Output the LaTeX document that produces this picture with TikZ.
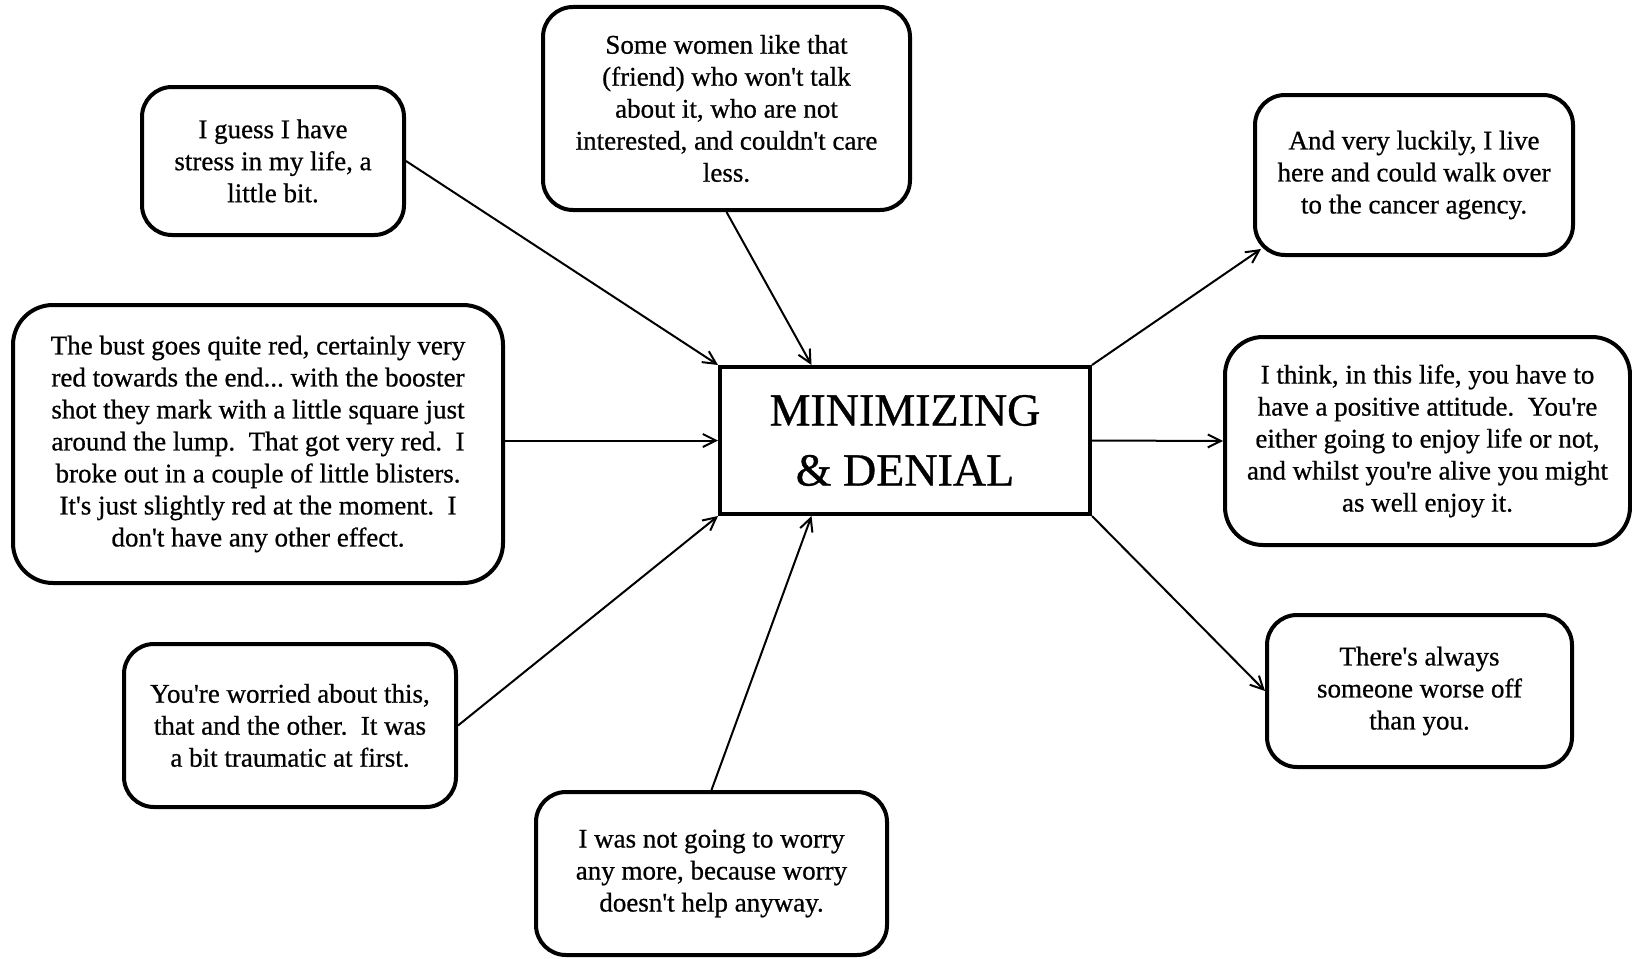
\documentclass[tikz,border=0pt]{standalone}
\usepackage{fontspec}
\setmainfont{Liberation Serif}[Ligatures=TeXOff,
  BoldFont=Liberation Serif, BoldFeatures={FakeBold=0.7}]
\usetikzlibrary{arrows.meta,calc}
\begin{document}
\begin{tikzpicture}[x=1pt,y=-1pt,
  quote/.style={draw,line width=4pt,rounded corners=30pt,align=center,
    font=\fontsize{27}{32}\selectfont\bfseries\frenchspacing,inner sep=0pt},
  hub/.style={draw,line width=4pt,align=center,
    font=\fontsize{46}{60}\selectfont\bfseries,inner sep=0pt},
  link/.style={line width=2pt,-{Straight Barb[length=13pt,width=13pt,line width=2pt]}}]
\useasboundingbox (0,0) rectangle (1632,958);

% central theme
\node[hub,minimum width=370pt,minimum height=147pt] (M) at (905,440.5)
  {MINIMIZING\\\& DENIAL};

% quotations, left and top
\node[quote,minimum width=262pt,minimum height=148pt] (A) at (273,161)
  {I guess I have\\stress in my life, a\\little bit.};
\node[quote,minimum width=367pt,minimum height=203pt] (B) at (726.5,108.5)
  {Some women like that\\(friend) who won't talk\\about it, who are not\\interested, and couldn't care\\less.};
\node[quote,rounded corners=40pt,minimum width=490pt,minimum height=278pt] (C) at (258,444)
  {The bust goes quite red, certainly very\\red towards the end... with the booster\\shot they mark with a little square just\\around the lump.\ \ That got very red.\ \ I\\broke out in a couple of little blisters.\\It's just slightly red at the moment.\ \ I\\don't have any other effect.};
\node[quote,minimum width=332pt,minimum height=163pt] (D) at (290,725.5)
  {You're worried about this,\\that and the other.\ \ It was\\a bit traumatic at first.};
\node[quote,minimum width=351pt,minimum height=163pt] (E) at (711.5,873.5)
  {I was not going to worry\\any more, because worry\\doesn't help anyway.};

% quotations, right
\node[quote,minimum width=318pt,minimum height=160pt] (F) at (1414,175)
  {And very luckily, I live\\here and could walk over\\to the cancer agency.};
\node[quote,rounded corners=38pt,minimum width=405pt,minimum height=208pt] (G) at (1427.5,441)
  {I think, in this life, you have to\\have a positive attitude.\ \ You're\\either going to enjoy life or not,\\and whilst you're alive you might\\as well enjoy it.};
\node[quote,minimum width=305pt,minimum height=152pt] (H) at (1419.5,691)
  {There's always\\someone worse off\\than you.};

% connectors
\draw[link] (A.east) -- (M.north west);
\draw[link] (B.south) -- ($(M.north west)!0.25!(M.north east)$);
\draw[link] (C.east |- M.west) -- (M.west);
\draw[link] (D.east) -- (M.south west);
\draw[link] (E.north) -- ($(M.south west)!0.25!(M.south east)$);
\draw[link] (M.north east) -- ($(F.south west)+(8,-8)$);
\draw[link] (M.east) -- (G.west);
\draw[link] (M.south east) -- (H.west);
\end{tikzpicture}
\end{document}
